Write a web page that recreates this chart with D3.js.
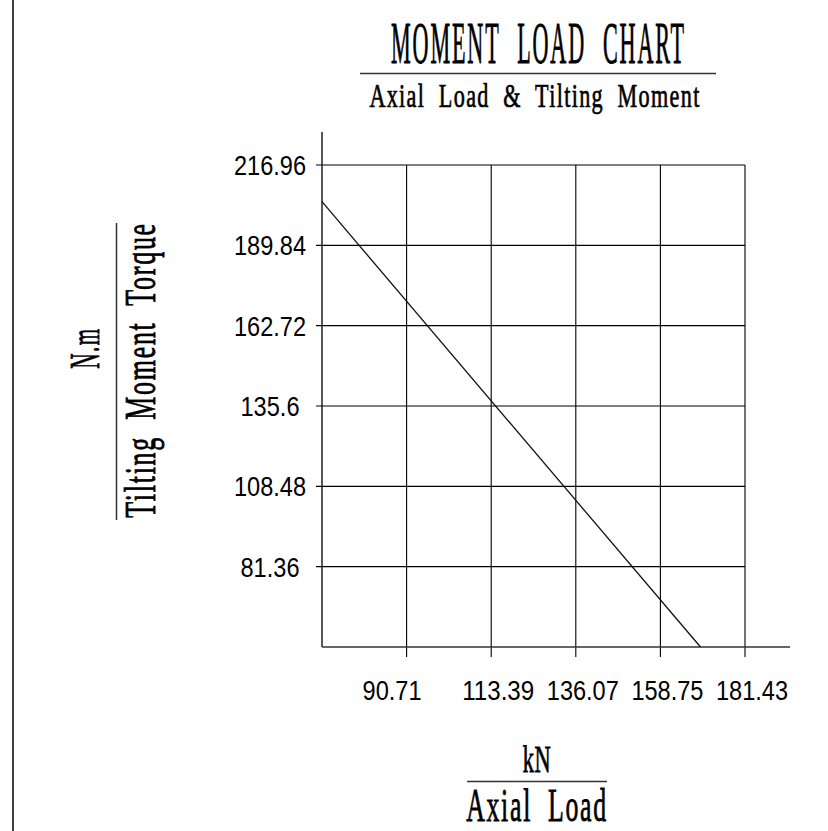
<!DOCTYPE html>
<html>
<head>
<meta charset="utf-8">
<script src="https://cdn.jsdelivr.net/npm/d3@7"></script>
<style>
  html, body { margin: 0; padding: 0; background: #fff; }
  svg { display: block; }
</style>
</head>
<body>
<script>
// ---- data ----
const xTicks = [90.71, 113.39, 136.07, 158.75, 181.43];
const xTickLabels = ["90.71", "113.39", "136.07", "158.75", "181.43"];
const yTicks = [81.36, 108.48, 135.6, 162.72, 189.84, 216.96];
const yTickLabels = ["81.36", "108.48", "135.6", "162.72", "189.84", "216.96"];
const axialLoad = [68.03, 169.5];      // kN
const tiltingMoment = [204.57, 54.24]; // N.m
const xMin = 68.03, yMin = 54.24;

const title = "MOMENT LOAD CHART";
const subtitle = "Axial Load & Tilting Moment";
const yUnit = "N.m", yName = "Tilting Moment Torque";
const xUnit = "kN", xName = "Axial Load";

// ---- layout ----
const W = 828, H = 831;
const svg = d3.select("body").append("svg").attr("width", W).attr("height", H);

const x = d3.scaleLinear().domain([xMin, d3.max(xTicks)]).range([322, 745]);
const y = d3.scaleLinear().domain([yMin, d3.max(yTicks)]).range([647, 165]);

const serif = "'Liberation Serif', 'DejaVu Serif', serif";
const sans = "'Liberation Sans', 'DejaVu Sans', sans-serif";

// tick label width (narrow CAD lettering)
const labelWidth = s => s.replace(/[^0-9]/g, "").length * 13 + (s.includes(".") ? 7 : 0);

// left border
svg.append("line").attr("x1", 13).attr("x2", 13).attr("y1", 0).attr("y2", H)
  .attr("stroke", "#111").attr("stroke-width", 1.6);

// grid
const g = svg.append("g");
g.selectAll(".hg").data(yTicks).join("line")
  .attr("x1", x.range()[0] - 6).attr("x2", x.range()[1])
  .attr("y1", d => y(d)).attr("y2", d => y(d))
  .attr("stroke", "#000").attr("stroke-width", 1.1);
g.selectAll(".vg").data(xTicks).join("line")
  .attr("x1", d => x(d)).attr("x2", d => x(d))
  .attr("y1", y.range()[1]).attr("y2", y.range()[0] + 10)
  .attr("stroke", "#000").attr("stroke-width", 1.1);

// axes lines
g.append("line").attr("x1", x.range()[0]).attr("x2", x.range()[0])
  .attr("y1", y.range()[1] - 33).attr("y2", y.range()[0])
  .attr("stroke", "#111").attr("stroke-width", 1.4);
g.append("line").attr("x1", x.range()[0]).attr("x2", x.range()[1] + 45)
  .attr("y1", y.range()[0]).attr("y2", y.range()[0])
  .attr("stroke", "#333").attr("stroke-width", 1.6);

// data line
const line = d3.line().x(d => x(d[0])).y(d => y(d[1]));
g.append("path").datum(d3.zip(axialLoad, tiltingMoment))
  .attr("d", line).attr("fill", "none").attr("stroke", "#111").attr("stroke-width", 1.3);

// tick labels
g.selectAll(".yl").data(yTicks).join("text")
  .attr("x", x.range()[0] - 52).attr("y", d => y(d) + 10)
  .attr("text-anchor", "middle")
  .attr("font-family", sans).attr("font-size", 27)
  .attr("textLength", (d, i) => labelWidth(yTickLabels[i]))
  .attr("lengthAdjust", "spacingAndGlyphs")
  .attr("fill", "#000")
  .text((d, i) => yTickLabels[i]);
g.selectAll(".xl").data(xTicks).join("text")
  .attr("x", (d, i) => x(d) - (i === 0 ? 44 : 29)).attr("y", y.range()[0] + 53)
  .attr("text-anchor", "start")
  .attr("font-family", sans).attr("font-size", 27)
  .attr("textLength", (d, i) => labelWidth(xTickLabels[i]))
  .attr("lengthAdjust", "spacingAndGlyphs")
  .attr("fill", "#000")
  .text((d, i) => xTickLabels[i]);

// titles: condensed serif lettering, horizontally scaled to the target width
function tt(parent, txt, xx, yy, fs, len, ls, ws, sw) {
  const wrap = parent.append("g").attr("transform", `translate(${xx},${yy})`);
  const inner = wrap.append("g");
  const t = inner.append("text").attr("x", 0).attr("y", 0)
    .attr("font-family", serif).attr("font-size", fs)
    .attr("text-anchor", "middle")
    .attr("letter-spacing", ls).attr("word-spacing", ws)
    .attr("fill", "#000").attr("stroke", "#000").attr("stroke-width", sw)
    .text(txt);
  const bb = t.node().getBBox();
  const sx = len / Math.max(1, bb.width - ls);
  inner.attr("transform", `scale(${sx},1)`);
  return wrap;
}
tt(svg, title, 538.5, 62.5, 60, 293, 5, 26, 0.9);
svg.append("line").attr("x1", 360).attr("x2", 716).attr("y1", 73.5).attr("y2", 73.5)
  .attr("stroke", "#333").attr("stroke-width", 1.5);
tt(svg, subtitle, 535, 106.5, 33, 330, 2, 10, 0.7);

// x title
tt(svg, xUnit, 537, 772, 38, 28, 1, 0, 0.8);
svg.append("line").attr("x1", 467).attr("x2", 607).attr("y1", 781.5).attr("y2", 781.5)
  .attr("stroke", "#333").attr("stroke-width", 1.5);
tt(svg, xName, 537, 821, 46, 140, 3, 14, 0.8);

// y title (rotated)
const yt1 = svg.append("g").attr("transform", "translate(99,348) rotate(-90)");
tt(yt1, yUnit, 0, 0, 42, 40, 3, 0, 0.8);
svg.append("line").attr("x1", 116.5).attr("x2", 116.5).attr("y1", 223).attr("y2", 520)
  .attr("stroke", "#333").attr("stroke-width", 1.5);
const yt2 = svg.append("g").attr("transform", "translate(155,370) rotate(-90)");
tt(yt2, yName, 0, 0, 45, 294, 3, 14, 0.8);
</script>
</body>
</html>
